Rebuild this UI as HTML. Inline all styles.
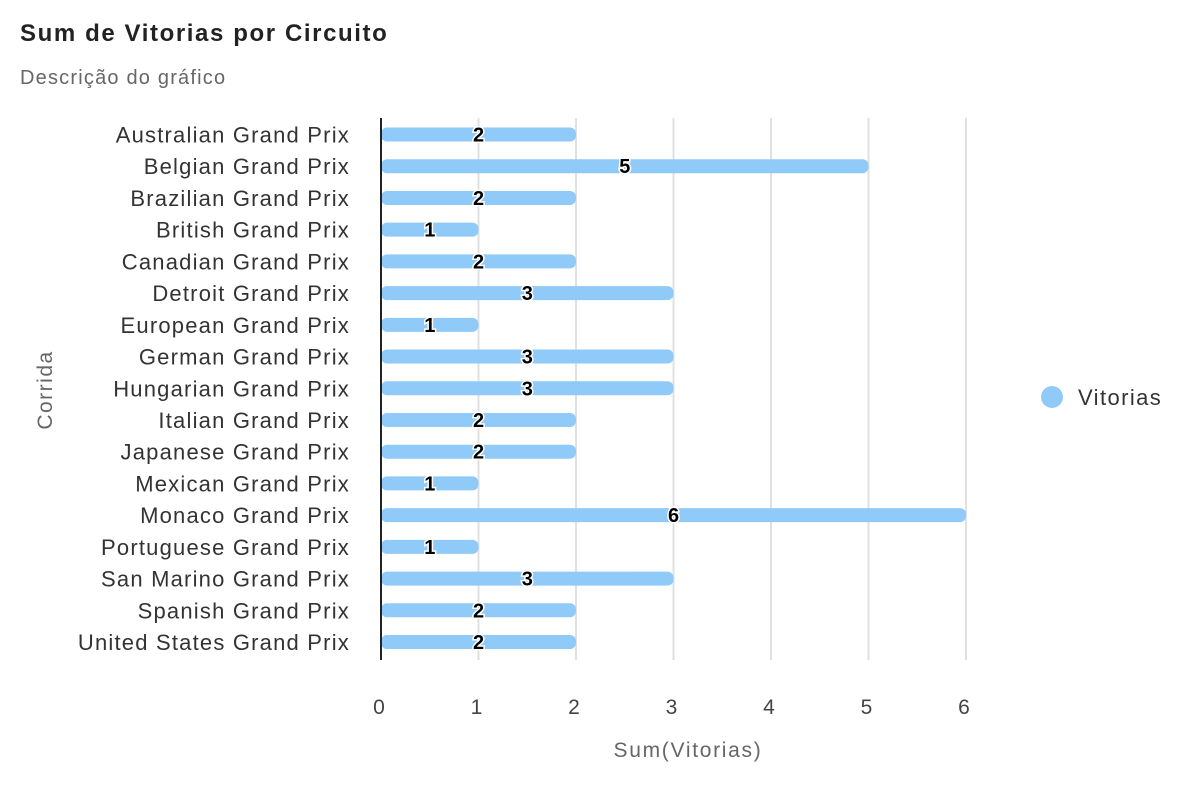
<!DOCTYPE html>
<html><head><meta charset="utf-8"><style>
body{margin:0;background:#fff;font-family:"Liberation Sans","DejaVu Sans",sans-serif;}
</style></head><body>
<svg width="1200" height="800" xmlns="http://www.w3.org/2000/svg">
<text x="20" y="41" font-size="24" font-weight="bold" fill="#222" letter-spacing="1.6">Sum de Vitorias por Circuito</text>
<text x="20" y="84" font-size="20" fill="#666" letter-spacing="1.2">Descrição do gráfico</text>
<g id="grid"></g><g id="bars"></g><g id="ylabels"></g><g id="xticks"></g>
<line x1="381" y1="118" x2="381" y2="660" stroke="#222" stroke-width="2"/>
<text x="688" y="757" font-size="21" fill="#666" text-anchor="middle" letter-spacing="1.7">Sum(Vitorias)</text>
<text transform="translate(52,390) rotate(-90)" font-size="21" fill="#666" text-anchor="middle" letter-spacing="1.5">Corrida</text>
<g>
<circle cx="1052" cy="397" r="11" fill="#90CAF9"/>
<text x="1078" y="405" font-size="22" fill="#333" letter-spacing="1.4">Vitorias</text>
</g>
</svg>
<script>
const categories=["Australian Grand Prix","Belgian Grand Prix","Brazilian Grand Prix","British Grand Prix","Canadian Grand Prix","Detroit Grand Prix","European Grand Prix","German Grand Prix","Hungarian Grand Prix","Italian Grand Prix","Japanese Grand Prix","Mexican Grand Prix","Monaco Grand Prix","Portuguese Grand Prix","San Marino Grand Prix","Spanish Grand Prix","United States Grand Prix"];
const values=[2,5,2,1,2,3,1,3,3,2,2,1,6,1,3,2,2];
const ticks=[0,1,2,3,4,5,6];
const NS="http://www.w3.org/2000/svg";
const x=v=>381+v*97.5;
const y=i=>134.5+i*(642-134.5)/16;
function mk(t,a,p){const e=document.createElementNS(NS,t);for(const k in a)e.setAttribute(k,a[k]);p.appendChild(e);return e;}
const G=document.getElementById('grid'),B=document.getElementById('bars'),L=document.getElementById('ylabels'),X=document.getElementById('xticks');
ticks.forEach(t=>{
 if(t>0){const l=mk('line',{x1:x(t),x2:x(t),y1:118,y2:660,stroke:'#e0e0e0','stroke-width':2},G);
 
 }
 const tx=mk('text',{x:x(t)-2,y:714,'font-size':21,fill:'#444','text-anchor':'middle'},X);tx.textContent=t;
 
 
});
categories.forEach((c,i)=>{
 const cy=y(i);
 const r=mk('rect',{x:381,y:cy-7,width:x(values[i])-381,height:14,rx:6,fill:'#90CAF9'},B);
 
 
 const v=mk('text',{x:(381+x(values[i]))/2,y:cy+7,'font-size':20,'font-weight':'bold',fill:'#000',stroke:'#fff','stroke-width':3,'paint-order':'stroke','text-anchor':'middle'},B);v.textContent=values[i];
 
 
 const t=mk('text',{x:350,y:cy+8,'font-size':22,fill:'#333','text-anchor':'end','letter-spacing':1.2},L);t.textContent=c;
 
 
});
</script>
</body></html>
